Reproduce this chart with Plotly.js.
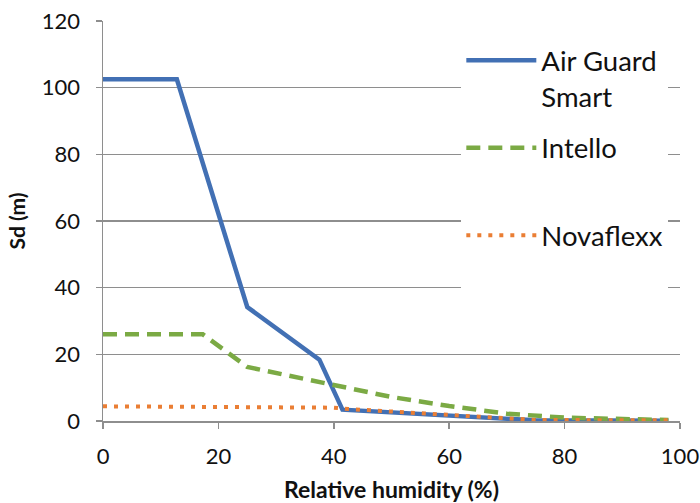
<!DOCTYPE html>
<html>
<head>
<meta charset="utf-8">
<script src="https://cdn.plot.ly/plotly-3.0.1.min.js"></script>
<style>html,body{margin:0;padding:0;background:#fff;}#chart{width:700px;height:503px;}</style>
</head>
<body>
<div id="chart"></div>
<script>
var seriesNames = ["Air Guard<br>Smart", "Intello<br>&nbsp;", "Novaflexx<br>&nbsp;"];

var airGuardX = [0, 12.8, 25, 37.5, 41.5, 75, 98];
var airGuardY = [102.5, 102.5, 34.2, 18.4, 3.4, 0.2, 0.1];

var intelloX = [0, 17.3, 25, 41.5, 50, 60, 70, 80, 90, 98];
var intelloY = [26, 26, 16.2, 10.2, 7.2, 4.5, 2.2, 1.0, 0.5, 0.3];

var novaflexxX = [0, 40, 42.5, 75, 98];
var novaflexxY = [4.4, 4.0, 3.6, 0.3, 0.2];

var xTicks = [0, 20, 40, 60, 80, 100];
var yTicks = [0, 20, 40, 60, 80, 100, 120];

var traces = [
  {x: airGuardX, y: airGuardY, name: seriesNames[0], legendgroup: "a", mode: "lines",
   line: {color: "#4270B4", width: 4.5}},
  {x: intelloX, y: intelloY, name: seriesNames[1], legendgroup: "b", mode: "lines",
   line: {color: "#7BAA44", width: 4.5, dash: "14px,8px"}},
  {x: novaflexxX, y: novaflexxY, name: seriesNames[2], legendgroup: "c", mode: "lines",
   line: {color: "#EA7E34", width: 4, dash: "4px,7px"}}
];

var gridCol = "#8e8e8e";
var layout = {
  width: 700, height: 503,
  margin: {l: 103, r: 20, t: 21, b: 82},
  paper_bgcolor: "#fff", plot_bgcolor: "#fff",
  font: {family: "Lato, 'DejaVu Sans', sans-serif", color: "#111", size: 22},
  showlegend: true,
  legend: {
    x: 0.621, xanchor: "left", y: 0.963, yanchor: "top",
    bgcolor: "#fff", borderwidth: 0,
    font: {size: 27.5, color: "#111"},
    valign: "top", traceorder: "grouped", tracegroupgap: 13,
    itemwidth: 70
  },
  xaxis: {
    range: [0, 100], tickvals: xTicks, ticktext: xTicks.map(String),
    showgrid: false, zeroline: false,
    showline: true, linecolor: gridCol, linewidth: 1.5,
    ticks: "outside", ticklen: 6, tickcolor: gridCol, tickwidth: 1.5,
    ticklabelstandoff: 9,
    title: {text: "<b>Relative humidity (%)</b>", font: {size: 23}, standoff: 16}
  },
  yaxis: {
    range: [0, 120], tickvals: yTicks, ticktext: yTicks.map(String),
    showgrid: true, gridcolor: gridCol, gridwidth: 1.5, zeroline: false,
    showline: true, linecolor: gridCol, linewidth: 1.5,
    ticks: "outside", ticklen: 6, tickcolor: gridCol, tickwidth: 1.5,
    ticklabelstandoff: 11,
    title: {text: "<b>Sd (m)</b>", font: {size: 21}, standoff: 10}
  }
};

Plotly.newPlot("chart", traces, layout, {displayModeBar: false, staticPlot: true});
</script>
</body>
</html>
